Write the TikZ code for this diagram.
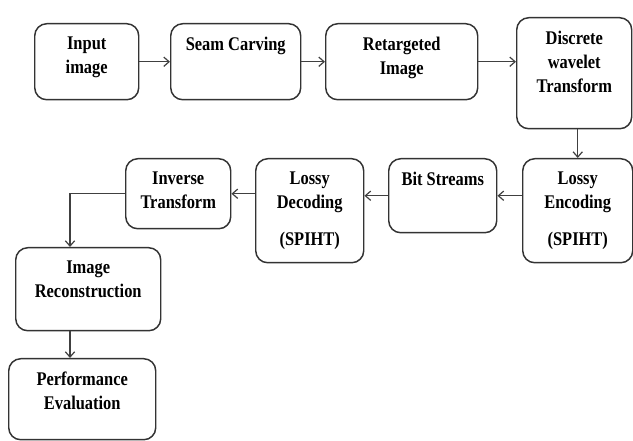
\documentclass[tikz,border=0pt]{standalone}
\usepackage{fontspec}
\setmainfont{Liberation Serif}[FakeStretch=0.85]
\usetikzlibrary{arrows.meta}
\newdimen\px \px=0.75pt
\newcommand{\blocktext}[3]{\parbox[t][#2\px][t]{#1\px}{\centering\vspace*{13\px}#3}}
\tikzset{
  block/.style={draw=black!80, line width=1.1pt, rounded corners=9pt, fill=white,
    inner sep=0pt, anchor=north west, font=\fontsize{14.5}{18}\selectfont\bfseries},
  flow/.style={draw=black!75, line width=0.9pt, -{Straight Barb[length=4pt,width=7pt]}}
}

\begin{document}
\begin{tikzpicture}[x=0.75pt, y=-0.75pt]
  \useasboundingbox (0,0) rectangle (633,441);
  % top row
  \node[block] (input) at (34,23) {\blocktext{104}{76}{Input\\image}};
  \node[block] (seam) at (170,23) {\blocktext{130}{76}{Seam Carving}};
  \node[block] (retarget) at (325,23) {\blocktext{152}{76}{Retargeted\\Image}};
  \node[block] (dwt) at (516,17) {\blocktext{115}{111}{Discrete\\wavelet\\Transform}};
  % middle row
  \node[block] (encode) at (522,158) {\blocktext{110}{104}{Lossy\\Encoding\\[10pt](SPIHT)}};
  \node[block] (bits) at (388,158) {\blocktext{108}{74}{Bit Streams}};
  \node[block] (decode) at (255,158) {\blocktext{108}{104}{Lossy\\Decoding\\[10pt](SPIHT)}};
  \node[block] (inverse) at (125,158) {\blocktext{105}{70}{Inverse\\Transform}};
  % left column
  \node[block] (recon) at (15,247) {\blocktext{145}{83}{Image\\Reconstruction}};
  \node[block] (perf) at (8,358) {\blocktext{147}{81}{Performance\\Evaluation}};
  \coordinate (lane) at (70,0);

  \draw[flow] (input.east) -- (seam.west);
  \draw[flow] (seam.east) -- (retarget.west);
  \draw[flow] (retarget.east) -- (retarget.east -| dwt.west);
  \draw[flow] (encode.north |- dwt.south) -- (encode.north);
  \draw[flow] (encode.west |- bits.east) -- (bits.east);
  \draw[flow] (bits.west) -- (bits.west -| decode.east);
  \draw[flow] (decode.west |- inverse.east) -- (inverse.east);
  \draw[flow] (inverse.west) -| (recon.north -| lane);
  \draw[flow] (recon.south -| lane) -- (perf.north -| lane);
\end{tikzpicture}
\end{document}
